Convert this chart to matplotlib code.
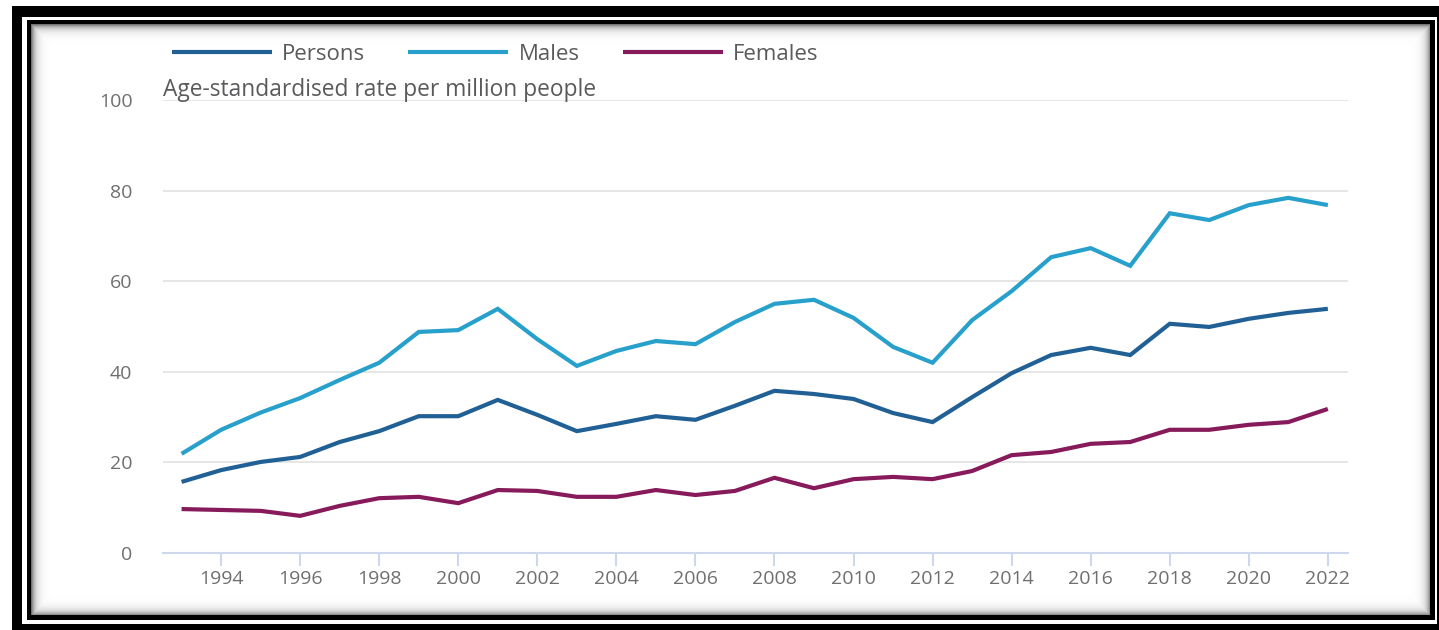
import matplotlib
matplotlib.use('Agg')
import matplotlib.pyplot as plt
import numpy as np

plt.rcParams['font.family'] = ['Open Sans', 'DejaVu Sans']

# data
years = list(range(1993, 2023))
persons = [15.7, 18.3, 20.1, 21.2, 24.5, 26.9, 30.2, 30.2, 33.8, 30.5,
           26.9, 28.5, 30.2, 29.4, 32.5, 35.8, 35.1, 34.0, 30.9, 28.9,
           34.4, 39.7, 43.7, 45.3, 43.7, 50.6, 49.9, 51.7, 53.0, 53.9]
males = [21.9, 27.2, 31.0, 34.2, 38.2, 42.0, 48.8, 49.2, 53.9, 47.2,
         41.3, 44.6, 46.8, 46.1, 51.0, 55.0, 55.9, 51.9, 45.5, 42.0,
         51.4, 57.8, 65.3, 67.3, 63.4, 75.0, 73.5, 76.8, 78.4, 76.8]
females = [9.7, 9.5, 9.3, 8.2, 10.4, 12.1, 12.4, 11.0, 13.9, 13.7,
           12.4, 12.4, 13.9, 12.8, 13.7, 16.6, 14.3, 16.3, 16.8, 16.3,
           18.1, 21.6, 22.3, 24.1, 24.5, 27.2, 27.2, 28.3, 28.9, 31.8]
series_names = ['Persons', 'Males', 'Females']
series_colors = ['#206095', '#27a0cc', '#871a5b']
y_ticks = [0, 20, 40, 60, 80, 100]
x_ticks = list(range(1994, 2023, 2))

W, H = 1439, 630
fig = plt.figure(figsize=(W / 100, H / 100), dpi=100)

# picture frame: double black border with a soft inner shadow
img = np.ones((H, W))
img[6:, 12:] = 0.0
img[17:624, 22:1437] = 1.0
img[20:620, 27:1435] = 0.0
yy, xx = np.mgrid[0:H, 0:W]
d = np.minimum.reduce([xx - 31, yy - 24, 1430 - xx, 615 - yy]).astype(float)
inner = (xx >= 31) & (xx < 1430) & (yy >= 24) & (yy < 615)
shade = 1.0 - 0.55 * np.exp(-np.clip(d, 0, None) / 4.0)
img[inner] = shade[inner]
bg = fig.add_axes([0, 0, 1, 1], zorder=-1)
bg.imshow(img, cmap='gray', vmin=0, vmax=1, aspect='auto', interpolation='nearest')
bg.axis('off')

ax = fig.add_axes([163 / W, 1 - 553 / H, (1348 - 163) / W, (553 - 100) / H])
ax.patch.set_alpha(0)

for name, vals, col in zip(series_names, [persons, males, females], series_colors):
    ax.plot(years, vals, color=col, lw=3.0, label=name, solid_capstyle='butt',
            solid_joinstyle='miter')

ax.set_xlim(1992.53, 2022.51)
ax.set_ylim(0, 100)
ax.set_yticks(y_ticks)
ax.set_xticks(x_ticks)
ax.grid(axis='y', color='#e2e2e2', lw=1.2)
ax.set_axisbelow(True)
for s in ['top', 'right', 'left']:
    ax.spines[s].set_visible(False)
ax.spines['bottom'].set_color('#cdd8ee')
ax.spines['bottom'].set_linewidth(1.5)
ax.tick_params(axis='y', length=0, pad=22, labelsize=14, labelcolor='#6f6f72')
ax.tick_params(axis='x', length=9, width=1.5, color='#cdd8ee', pad=3,
               labelsize=14, labelcolor='#6f6f72')

fig.text(163 / W, 1 - 90 / H, 'Age-standardised rate per million people',
         fontsize=16.4, color='#5a5a5d', va='center', ha='left')

fig.legend(loc='center left', bbox_to_anchor=(172 / W, 1 - 54 / H), ncol=3,
           frameon=False, fontsize=16, handlelength=4.5, handletextpad=0.45,
           columnspacing=1.95, borderpad=0, borderaxespad=0, labelcolor='#5a5a5d')

fig.savefig('out.png', dpi=100)
